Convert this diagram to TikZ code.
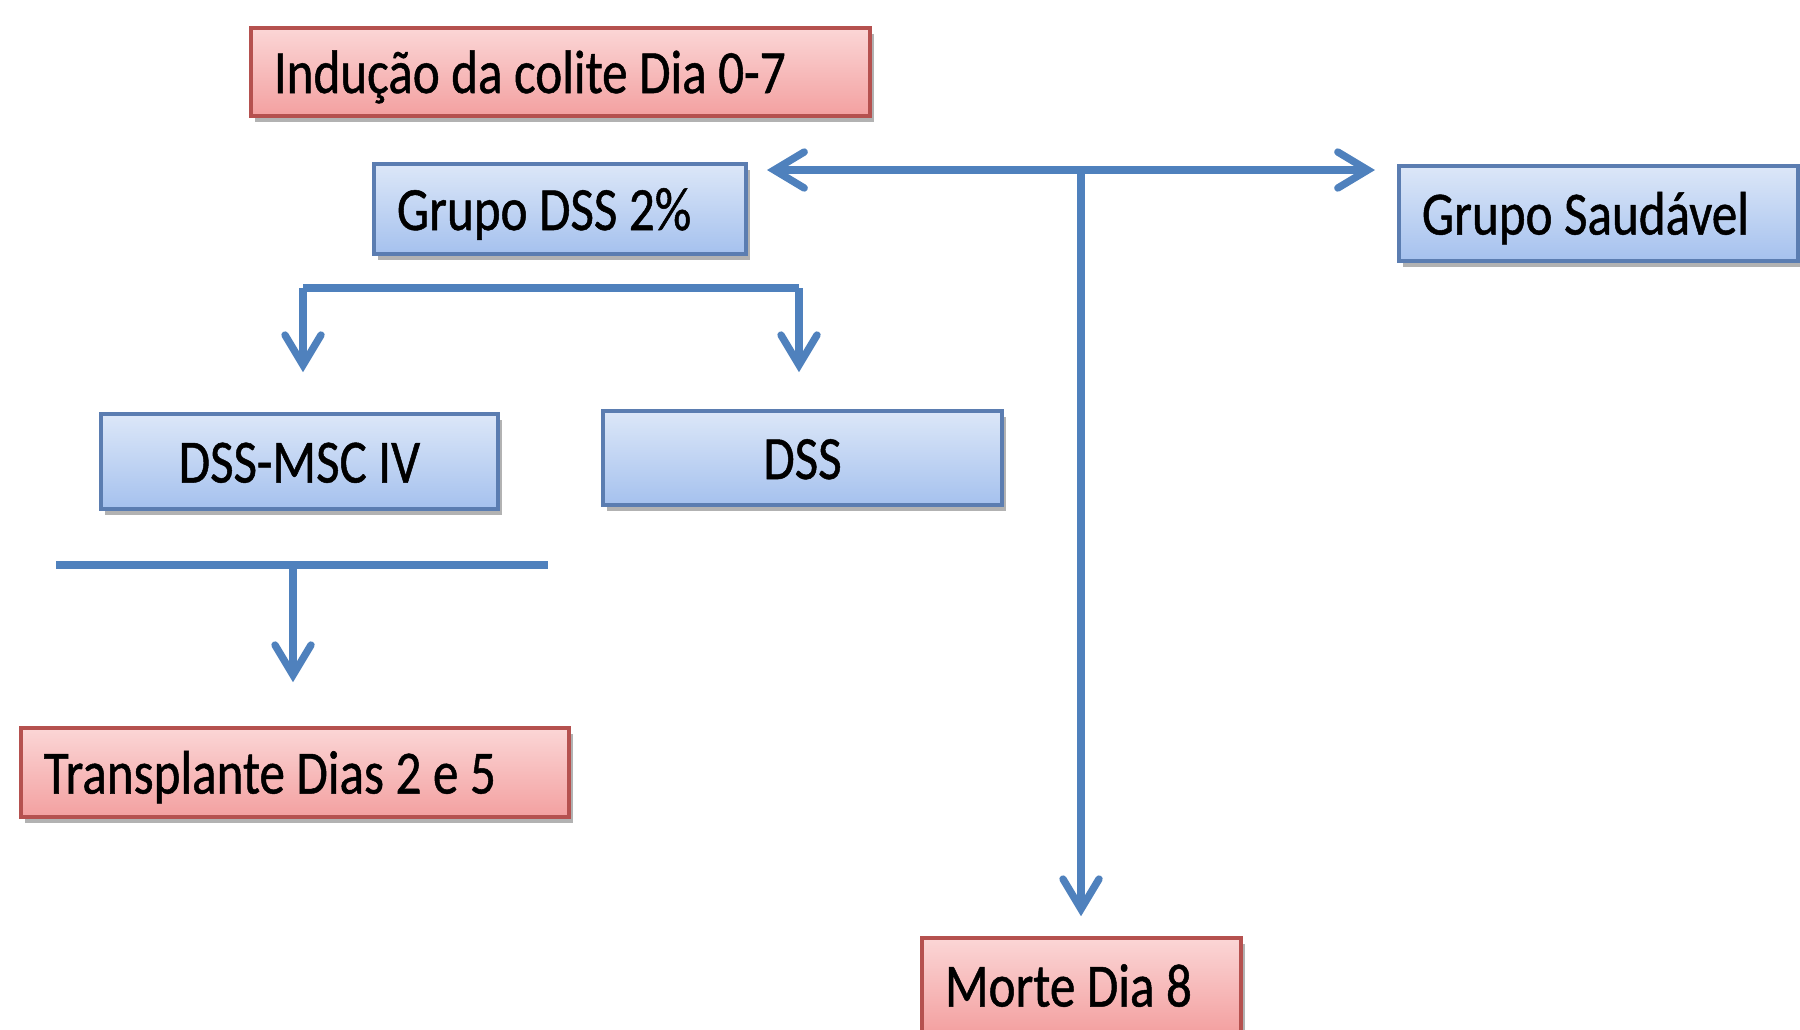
\documentclass[tikz,border=0pt]{standalone}
\usepackage{fontspec}
\setmainfont{Carlito}[FakeStretch=0.83, FakeBold=0.8]
\usetikzlibrary{arrows.meta,shadows,calc}
\definecolor{lineblue}{HTML}{4F81BD}
\definecolor{bluetop}{HTML}{DCE7F8}
\definecolor{bluebot}{HTML}{A5C1EE}
\definecolor{blueedge}{HTML}{5B7DB1}
\definecolor{redtop}{HTML}{FBD6D6}
\definecolor{redbot}{HTML}{F3A0A0}
\definecolor{rededge}{HTML}{B5514F}
\tikzset{
  box/.style={draw, line width=1pt, inner ysep=0pt, inner xsep=0.23cm,
    font=\fontsize{17.5}{20}\selectfont, text height=0.48cm, text depth=0.06cm,
    drop shadow={shadow xshift=1.2pt, shadow yshift=-1.8pt, opacity=0.3, fill=black}},
  bluebox/.style={box, draw=blueedge, top color=bluetop, bottom color=bluebot},
  redbox/.style={box, draw=rededge, top color=redtop, bottom color=redbot},
  leftbox/.style n args={2}{text width=#1cm-0.46cm, align=flush left, minimum height=#2cm},
  centerbox/.style n args={2}{minimum width=#1cm, align=center, minimum height=#2cm},
  conn/.style={draw=lineblue, line width=2.1pt},
  arr/.style={conn, -{Straight Barb[length=0.3cm, width=0.36cm, line cap=round]}},
}
\begin{document}
\begin{tikzpicture}[x=0.01cm, y=-0.01cm]
\useasboundingbox (0,0) rectangle (1800,1029);
\clip (0,0) rectangle (1800,1029);

\node[redbox, leftbox={6.19}{0.88}] (ind) at (560.5,72) {Indução da colite Dia 0-7};
\node[bluebox, leftbox={3.72}{0.90}] (g2) at (560,209) {Grupo DSS 2\%};
\node[bluebox, leftbox={3.99}{0.95}] (gs) at (1598.5,213.5) {Grupo Saudável};
\node[bluebox, centerbox={3.97}{0.95}] (msc) at (299.5,461.5) {DSS-MSC IV};
\node[bluebox, centerbox={3.99}{0.94}] (dss) at (802.5,458) {DSS};
\node[redbox, leftbox={5.48}{0.89}] (tr) at (295,772.5) {Transplante Dias 2 e 5};
\node[redbox, leftbox={3.19}{0.95}] (mo) at (1081.5,985.5) {Morte Dia 8};

% top double arrow and drop to Morte
\coordinate (hl) at (767,170);
\coordinate (hr) at (1375,170);
\coordinate (hm) at (1081,170);
\draw[arr] (hm) -- (hl);
\draw[arr] (hm) -- (hr);
\draw[arr, shorten >=0.2cm] (hm) -- (hm |- mo.north);

% bracket to DSS-MSC IV and DSS
\coordinate (bl) at (303,288);
\coordinate (br) at (799,288);
\draw[conn] (bl) -- (br);
\draw[arr, shorten >=0.4cm] (bl) -- (bl |- msc.north);
\draw[arr, shorten >=0.37cm] (br) -- (br |- dss.north);

% line to Transplante
\coordinate (ll) at (56,565);
\coordinate (lr) at (548,565);
\coordinate (lm) at (293,565);
\draw[conn] (ll) -- (lr);
\draw[arr, shorten >=0.44cm] (lm) -- (lm |- tr.north);
\end{tikzpicture}
\end{document}
